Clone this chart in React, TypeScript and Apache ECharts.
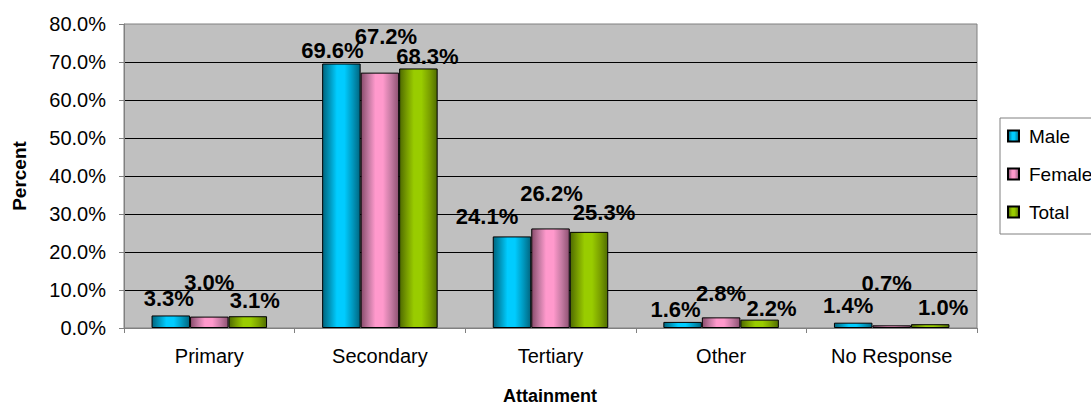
import React, { useEffect, useRef } from "react";
import * as echarts from "echarts";

// Educational attainment by sex (percent of respondents)
const categories = ["Primary", "Secondary", "Tertiary", "Other", "No Response"];
const seriesNames = ["Male", "Female", "Total"];
const maleValues = [3.3, 69.6, 24.1, 1.6, 1.4];
const femaleValues = [3.0, 67.2, 26.2, 2.8, 0.7];
const totalValues = [3.1, 68.3, 25.3, 2.2, 1.0];
const yTicks = { min: 0, max: 80, interval: 10 };

// Hand-placed data label nudges [dx, dy] in pixels, so neighbouring labels don't collide
const maleLabelNudge = [[-2, -1], [-9, 3], [-25, -4], [-7, 4], [-5, -1]];
const femaleLabelNudge = [[0, -18], [6, -20], [1, -19], [0, -8], [-5, -26]];
const totalLabelNudge = [[7, 0], [9, 4], [15, -3], [12, 5], [13, -1]];

// Cylinder-like shading: dark edges, bright band just left of centre
const shade = (dark: string, mid: string, light: string, darkR: string) =>
  new echarts.graphic.LinearGradient(0, 0, 1, 0, [
    { offset: 0, color: dark },
    { offset: 0.2, color: mid },
    { offset: 0.38, color: light },
    { offset: 0.58, color: light },
    { offset: 0.8, color: mid },
    { offset: 1, color: darkR },
  ]);

const palettes = [
  shade("#00667f", "#0099bf", "#00ccff", "#006680"),
  shade("#8a4c6c", "#c47aa2", "#ff99cc", "#8f5273"),
  shade("#4e6b00", "#7a9f00", "#99cc00", "#506e00"),
];

const FONT = "Arial, 'Liberation Sans', sans-serif";

export default function App() {
  const ref = useRef<HTMLDivElement>(null);

  useEffect(() => {
    if (!ref.current) return;
    const chart = echarts.init(ref.current, undefined, { renderer: "svg" });

    const values = [maleValues, femaleValues, totalValues];
    const nudges = [maleLabelNudge, femaleLabelNudge, totalLabelNudge];

    const series = seriesNames.map((name, si) => ({
      name,
      type: "bar",
      barWidth: 38.5,
      barGap: "0%",
      itemStyle: {
        color: palettes[si],
        borderColor: "#000",
        borderWidth: 1,
      },
      label: {
        show: true,
        position: "top",
        distance: 5,
        color: "#000",
        fontFamily: FONT,
        fontWeight: "bold",
        fontSize: 22,
        formatter: (p: any) => `${Number(p.value).toFixed(1)}%`,
      },
      data: values[si].map((v, i) => ({
        value: v,
        label: { offset: nudges[si][i] },
      })),
    }));

    chart.setOption({
      animation: false,
      textStyle: { fontFamily: FONT },
      grid: {
        left: 124,
        top: 24,
        right: 114,
        bottom: 80,
        show: true,
        backgroundColor: "#c0c0c0",
        borderColor: "#808080",
        borderWidth: 1,
      },
      legend: {
        orient: "vertical",
        left: 1000,
        top: 118,
        backgroundColor: "#fff",
        borderColor: "#808080",
        borderWidth: 1,
        borderRadius: 0,
        padding: [7, 40, 11, 7],
        itemWidth: 11,
        itemHeight: 11,
        itemGap: 16,
        icon: "rect",
        selectedMode: false,
        textStyle: {
          fontFamily: FONT,
          fontSize: 19,
          lineHeight: 22,
          color: "#000",
          padding: [0, 0, 0, 5],
        },
        data: seriesNames,
      },
      xAxis: {
        type: "category",
        data: categories,
        axisLine: { show: true, lineStyle: { color: "#808080", width: 1 } },
        axisTick: { show: true, length: 5, lineStyle: { color: "#808080" } },
        axisLabel: { color: "#000", fontSize: 20, margin: 18, fontFamily: FONT },
        splitLine: { show: false },
      },
      yAxis: {
        type: "value",
        min: yTicks.min,
        max: yTicks.max,
        interval: yTicks.interval,
        axisLine: { show: true, lineStyle: { color: "#808080", width: 1 } },
        axisTick: { show: true, length: 5, lineStyle: { color: "#808080" } },
        axisLabel: {
          color: "#000",
          fontSize: 20,
          margin: 18,
          fontFamily: FONT,
          formatter: (v: number) => `${v.toFixed(1)}%`,
        },
        splitLine: {
          show: true,
          showMinLine: false,
          showMaxLine: false,
          lineStyle: { color: "#000", width: 1 },
        },
      },
      graphic: [
        {
          type: "text",
          x: 19,
          y: 176,
          rotation: Math.PI / 2,
          style: {
            text: "Percent",
            fontFamily: FONT,
            fontWeight: "bold",
            fontSize: 19,
            fill: "#000",
            align: "center",
            verticalAlign: "middle",
          },
        },
        {
          type: "text",
          x: 550,
          y: 396,
          style: {
            text: "Attainment",
            fontFamily: FONT,
            fontWeight: "bold",
            fontSize: 18,
            fill: "#000",
            align: "center",
            verticalAlign: "middle",
          },
        },
      ],
      series,
    });

    return () => chart.dispose();
  }, []);

  return (
    <div
      ref={ref}
      style={{ position: "absolute", left: 0, top: 0, width: 1091, height: 408, background: "#fff" }}
    />
  );
}
